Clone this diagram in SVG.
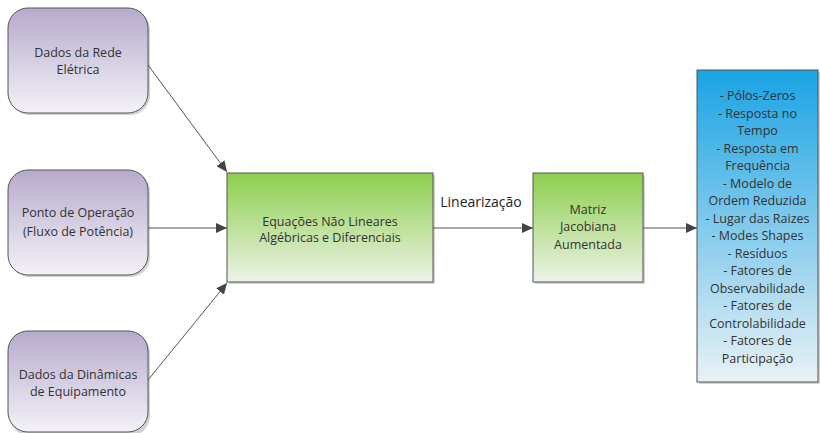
<svg xmlns="http://www.w3.org/2000/svg" width="820" height="433" viewBox="0 0 820 433">
<defs>
<linearGradient id="gPurple" x1="0" y1="0" x2="0" y2="1">
<stop offset="0" stop-color="#b6aacd"/>
<stop offset="1" stop-color="#f4f2f7"/>
</linearGradient>
<linearGradient id="gGreen" x1="0" y1="0" x2="0" y2="1">
<stop offset="0" stop-color="#8ccf4d"/>
<stop offset="1" stop-color="#eef2e8"/>
</linearGradient>
<linearGradient id="gBlue" x1="0" y1="0" x2="0" y2="1">
<stop offset="0" stop-color="#1aa3e4"/>
<stop offset="1" stop-color="#e9f1f5"/>
</linearGradient>
<marker id="arr" markerWidth="12" markerHeight="10" refX="11" refY="5" orient="auto" markerUnits="userSpaceOnUse">
<path d="M0,0 L11,5 L0,10 Z" fill="#444"/>
</marker>
</defs>
<style>
.lbl{font-family:"Open Sans","Liberation Sans",sans-serif;font-size:12.5px;fill:#333;text-anchor:middle}
.edge{font-size:14px;fill:#222}
.sh{fill:#d2d2d2}
.pbox{fill:url(#gPurple);stroke:#555;stroke-width:1}
.gbox{fill:url(#gGreen);stroke:#555;stroke-width:1}
.bbox{fill:url(#gBlue);stroke:#555;stroke-width:1}
.conn{stroke:#555;stroke-width:1;fill:none;marker-end:url(#arr)}
</style>
<rect width="820" height="433" fill="#ffffff"/>

<g id="node-rede">
<rect class="sh" x="10" y="10" width="140" height="105" rx="20"/>
<rect class="pbox" x="8" y="8" width="140" height="105" rx="20"/>
<text class="lbl" x="78" y="57">Dados da Rede</text>
<text class="lbl" x="78" y="74">Elétrica</text>
</g>

<g id="node-operacao">
<rect class="sh" x="10" y="172" width="140" height="105" rx="20"/>
<rect class="pbox" x="8" y="170" width="140" height="105" rx="20"/>
<text class="lbl" x="78" y="217">Ponto de Operação</text>
<text class="lbl" x="78" y="236">(Fluxo de Potência)</text>
</g>

<g id="node-dinamicas">
<rect class="sh" x="10" y="333" width="140" height="103" rx="20"/>
<rect class="pbox" x="8" y="331" width="140" height="101" rx="20"/>
<text class="lbl" x="78" y="379">Dados da Dinâmicas</text>
<text class="lbl" x="78" y="396">de Equipamento</text>
</g>

<g id="node-equacoes">
<rect class="sh" x="229" y="175" width="206" height="109"/>
<rect class="gbox" x="227" y="173" width="206" height="109"/>
<text class="lbl" x="330" y="226">Equações Não Lineares</text>
<text class="lbl" x="330" y="242">Algébricas e Diferenciais</text>
</g>

<g id="node-matriz">
<rect class="sh" x="535" y="175" width="110" height="109"/>
<rect class="gbox" x="533" y="173" width="110" height="109"/>
<text class="lbl" x="588" y="214">Matriz</text>
<text class="lbl" x="588" y="231">Jacobiana</text>
<text class="lbl" x="588" y="249">Aumentada</text>
</g>

<g id="node-resultados">
<rect class="sh" x="699" y="72" width="121" height="312"/>
<rect class="bbox" x="697" y="70" width="121" height="312"/>
<text class="lbl" x="757.5" y="100">- Pólos-Zeros</text>
<text class="lbl" x="757.5" y="117.5">- Resposta no</text>
<text class="lbl" x="757.5" y="135">Tempo</text>
<text class="lbl" x="757.5" y="152.5">- Resposta em</text>
<text class="lbl" x="757.5" y="170">Frequência</text>
<text class="lbl" x="757.5" y="187.5">- Modelo de</text>
<text class="lbl" x="757.5" y="205">Ordem Reduzida</text>
<text class="lbl" x="757.5" y="222.5">- Lugar das Raizes</text>
<text class="lbl" x="757.5" y="240">- Modes Shapes</text>
<text class="lbl" x="757.5" y="257.5">- Resíduos</text>
<text class="lbl" x="757.5" y="275">- Fatores de</text>
<text class="lbl" x="757.5" y="292.5">Observabilidade</text>
<text class="lbl" x="757.5" y="310">- Fatores de</text>
<text class="lbl" x="757.5" y="327.5">Controlabilidade</text>
<text class="lbl" x="757.5" y="345">- Fatores de</text>
<text class="lbl" x="757.5" y="362.5">Participação</text>
</g>

<g id="connectors">
<line class="conn" x1="148" y1="65" x2="227" y2="172"/>
<line class="conn" x1="148" y1="228" x2="227" y2="228"/>
<line class="conn" x1="148" y1="380" x2="227" y2="283"/>
<line class="conn" x1="433" y1="228" x2="533" y2="228"/>
<line class="conn" x1="643" y1="228" x2="697" y2="228"/>
<text class="lbl edge" x="481" y="207">Linearização</text>
</g>
</svg>
